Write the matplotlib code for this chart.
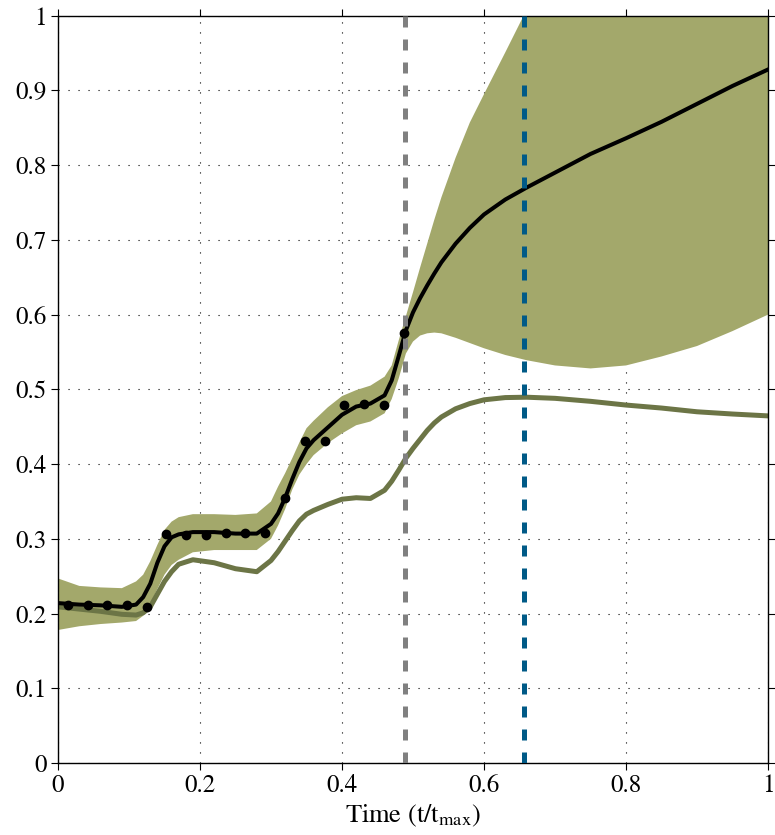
import matplotlib
matplotlib.use('Agg')
import matplotlib.pyplot as plt

# time grid (t/t_max) used by all curves
t = [0.00, 0.03, 0.06, 0.09, 0.11, 0.12, 0.13, 0.14, 0.15, 0.16,
     0.17, 0.19, 0.22, 0.25, 0.28, 0.30, 0.31, 0.32, 0.33, 0.34,
     0.35, 0.36, 0.38, 0.40, 0.42, 0.44, 0.46, 0.47, 0.48, 0.49,
     0.50, 0.51, 0.52, 0.53, 0.54, 0.56, 0.58, 0.60, 0.63, 0.66,
     0.70, 0.75, 0.80, 0.85, 0.90, 0.95, 1.00]

mean = [0.214, 0.212, 0.211, 0.209, 0.212, 0.222, 0.240, 0.268, 0.290, 0.302,
        0.306, 0.309, 0.309, 0.307, 0.307, 0.320, 0.334, 0.355, 0.380, 0.403,
        0.421, 0.432, 0.449, 0.466, 0.477, 0.481, 0.492, 0.512, 0.545, 0.579,
        0.603, 0.622, 0.639, 0.655, 0.670, 0.695, 0.716, 0.734, 0.754, 0.770,
        0.790, 0.815, 0.836, 0.858, 0.882, 0.906, 0.928]

upper = [0.247, 0.237, 0.235, 0.234, 0.243, 0.252, 0.270, 0.292, 0.312, 0.323,
         0.329, 0.333, 0.333, 0.332, 0.334, 0.350, 0.370, 0.388, 0.408, 0.429,
         0.448, 0.458, 0.476, 0.491, 0.499, 0.505, 0.517, 0.532, 0.566, 0.598,
         0.630, 0.663, 0.695, 0.727, 0.757, 0.810, 0.857, 0.895, 0.951, 1.008,
         1.090, 1.180, 1.250, 1.290, 1.320, 1.340, 1.360]

lower = [0.178, 0.183, 0.186, 0.188, 0.190, 0.197, 0.212, 0.233, 0.252, 0.265,
         0.272, 0.282, 0.285, 0.285, 0.285, 0.300, 0.318, 0.340, 0.366, 0.386,
         0.400, 0.412, 0.428, 0.441, 0.452, 0.457, 0.468, 0.487, 0.515, 0.548,
         0.564, 0.572, 0.575, 0.576, 0.575, 0.569, 0.562, 0.555, 0.546, 0.539,
         0.532, 0.528, 0.532, 0.544, 0.558, 0.578, 0.600]

second = [0.209, 0.206, 0.203, 0.199, 0.198, 0.201, 0.209, 0.226, 0.243, 0.256,
          0.266, 0.272, 0.268, 0.260, 0.256, 0.271, 0.283, 0.297, 0.311, 0.324,
          0.333, 0.338, 0.346, 0.353, 0.355, 0.354, 0.365, 0.377, 0.392, 0.408,
          0.421, 0.433, 0.445, 0.455, 0.463, 0.474, 0.481, 0.486, 0.489, 0.4895,
          0.488, 0.484, 0.479, 0.475, 0.470, 0.467, 0.4645]

# observed points
obs_t = [0.0145, 0.0418, 0.0695, 0.0977, 0.126, 0.1525, 0.181, 0.208, 0.236,
         0.264, 0.2915, 0.320, 0.348, 0.3756, 0.403, 0.431, 0.459, 0.487]
obs_y = [0.212, 0.212, 0.211, 0.211, 0.209, 0.306, 0.305, 0.305, 0.308,
         0.308, 0.308, 0.355, 0.431, 0.431, 0.479, 0.480, 0.479, 0.575]

vline_gray = 0.489
vline_blue = 0.656

plt.rcParams['font.family'] = ['STIXGeneral', 'DejaVu Serif']
plt.rcParams['mathtext.fontset'] = 'stix'

fig = plt.figure(figsize=(7.75, 8.35), dpi=100)
ax = fig.add_axes([0.0748, 0.0862, 0.9162, 0.895])

ax.fill_between(t, lower, upper, color='#a3a86b', linewidth=0, zorder=1)
ax.plot(t, second, color='#6c7546', linewidth=3.6, zorder=2)
ax.plot(t, mean, color='black', linewidth=2.9, zorder=3)
ax.axvline(vline_gray, color='#808080', linewidth=3.6,
           linestyle=(0, (2.2, 2.4)), zorder=4)
ax.axvline(vline_blue, color='#005a87', linewidth=3.6,
           linestyle=(0, (2.2, 2.4)), zorder=4)
ax.plot(obs_t, obs_y, 'o', color='black', markersize=6, zorder=5)

ax.set_xlim(0, 1)
ax.set_ylim(0, 1)
ax.set_xticks([0, 0.2, 0.4, 0.6, 0.8, 1])
ax.set_xticklabels(['0', '0.2', '0.4', '0.6', '0.8', '1'])
ax.set_yticks([0, 0.1, 0.2, 0.3, 0.4, 0.5, 0.6, 0.7, 0.8, 0.9, 1])
ax.set_yticklabels(['0', '0.1', '0.2', '0.3', '0.4', '0.5', '0.6', '0.7', '0.8', '0.9', '1'])
ax.tick_params(direction='out', length=5, width=0.8, labelsize=18,
               top=True, right=True, pad=3)
ax.grid(True, color='black', linestyle=(0, (1, 8)), linewidth=0.8)
ax.set_axisbelow(True)
for s in ax.spines.values():
    s.set_linewidth(1.0)

ax.set_xlabel('Time (t/t$_{\\mathrm{max}}$)', fontsize=19, labelpad=3)

fig.savefig('out.png', dpi=100)
